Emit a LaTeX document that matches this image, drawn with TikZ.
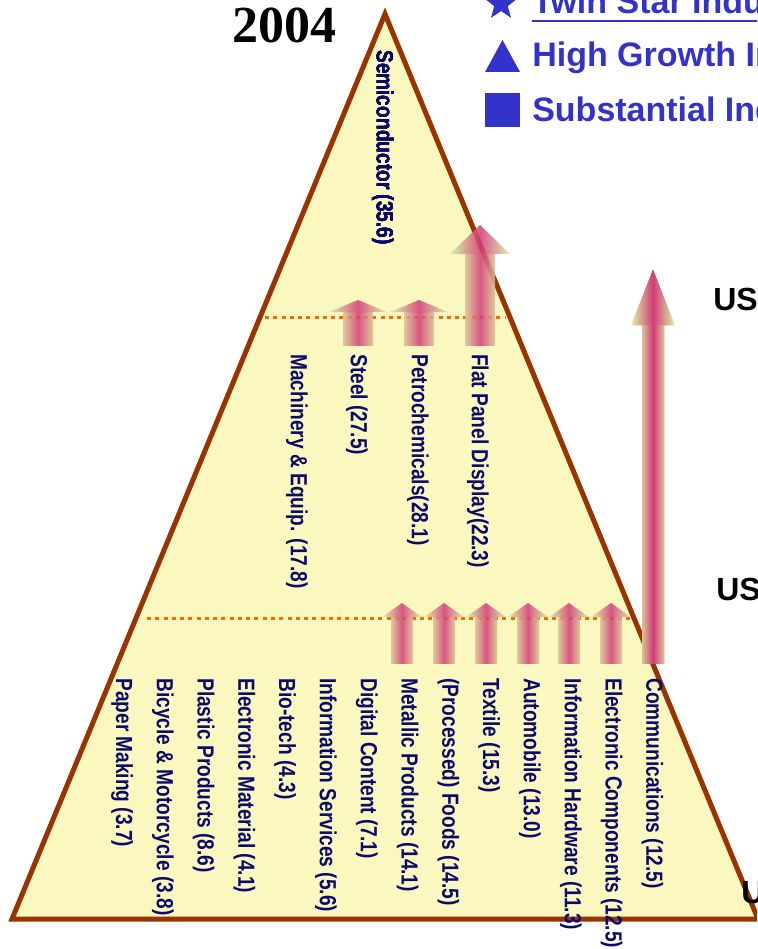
\documentclass[tikz,border=0pt]{standalone}
\usepackage{fontspec}
\setmainfont{Liberation Sans}
\newfontfamily\lblfont[FakeStretch=0.82]{Liberation Sans Bold}
\newfontfamily\yearfont{Liberation Serif}
\usetikzlibrary{shapes.geometric}
\definecolor{pyrbrown}{RGB}{153,51,0}
\definecolor{pyrfill}{RGB}{250,248,190}
\definecolor{dotorange}{RGB}{255,102,0}
\definecolor{labelnavy}{RGB}{10,10,110}
\definecolor{keyblue}{RGB}{51,51,204}
\definecolor{arrowpink}{RGB}{212,58,120}
\definecolor{shafttan}{RGB}{218,195,150}
\definecolor{headgreen}{RGB}{215,242,165}
\newcommand{\growarrow}[6]{%
  \shade[shaftshade] ({#1-#5/2},#3) rectangle ({#1+#5/2},#4);
  \shade[headshade] ({#1-#6/2},#3) -- (#1,#2) -- ({#1+#6/2},#3) -- cycle;
}

\begin{document}
\begin{tikzpicture}[x=0.75pt,y=-0.75pt,
    lbl/.style={font=\lblfont\fontsize{17.5}{20}\selectfont,text=labelnavy,rotate=-90,anchor=west,inner sep=0pt},
    keytext/.style={font=\bfseries\fontsize{25.5}{30}\selectfont,text=keyblue,anchor=base west,inner sep=0pt},
    usd/.style={font=\bfseries\fontsize{24}{28}\selectfont,anchor=base west,inner sep=0pt},
    dotline/.style={draw=dotorange,line width=2.25pt,dash pattern=on 3pt off 3.2pt},
    shaftshade/.style={left color=shafttan,right color=shafttan,middle color=arrowpink,fill opacity=0.85},
    headshade/.style={left color=headgreen,right color=headgreen,middle color=arrowpink,fill opacity=0.85}]
    \clip (0,0) rectangle (757,949);
    \draw[line width=3.75pt,draw=pyrbrown,fill=pyrfill] (385,14) -- (12,919) -- (758,919) -- cycle;
    \draw[dotline] (265,317) -- (506,317);
    \draw[dotline] (147,618) -- (633,618);
    \growarrow{358}{300}{312}{345}{30}{58}
    \growarrow{419}{300}{312}{345}{30}{58}
    \growarrow{480}{225}{254}{345}{30}{60}
    \foreach \cx in {402,444,486,528,569,611}
        \growarrow{\cx}{603}{617}{663}{22}{40}
    \growarrow{653}{270}{325}{663}{22}{43}
    \node[lbl] (semi) at (383,50) {Semiconductor (35.6)};
    \node[lbl] (mach) at (297,354) {Machinery \& Equip. (17.8)};
    \node[lbl] (steel) at (357,354) {Steel (27.5)};
    \node[lbl] (petro) at (418,354) {Petrochemicals(28.1)};
    \node[lbl] (fpd) at (478,354) {Flat Panel Display(22.3)};
    \foreach \i/\t in {0/{Paper Making (3.7)},1/{Bicycle \& Motorcycle (3.8)},2/{Plastic Products (8.6)},
        3/{Electronic Material (4.1)},4/{Bio-tech (4.3)},5/{Information Services (5.6)},
        6/{Digital Content (7.1)},7/{Metallic Products (14.1)},8/{(Processed) Foods (14.5)},
        9/{Textile (15.3)},10/{Automobile (13.0)},11/{Information Hardware (11.3)},
        12/{Electronic Components (12.5)},13/{Communications (12.5)}}
        \node[lbl] (low\i) at ({122+40.8*\i},678) {\t};
    \node[anchor=base west,inner sep=0pt,font=\yearfont\bfseries\fontsize{39}{44}\selectfont] (year) at (232,43) {2004};
    \node[star,star points=5,star point ratio=2.4,fill=keyblue,inner sep=0pt,minimum size=25.5pt] (keystar) at (501,4) {};
    \fill[keyblue] (485,72) -- (502.5,40) -- (520,72) -- cycle;
    \fill[keyblue] (485,93) rectangle (520,127);
    \node[keytext] (keytwin) at (532,14) {Twin Star Industries};
    \draw[keyblue,line width=1.6pt] ([yshift=-4.5pt]keytwin.south west) -- ([yshift=-4.5pt]keytwin.south east);
    \node[keytext] (keyhigh) at (532,67) {High Growth Industries};
    \node[keytext] (keysub) at (532,122) {Substantial Industries};
    \node[usd] (usa) at (713,310) {US};
    \node[usd] (usb) at (716,600) {US};
    \node[usd] (usc) at (741,903) {US};
\end{tikzpicture}
\end{document}
